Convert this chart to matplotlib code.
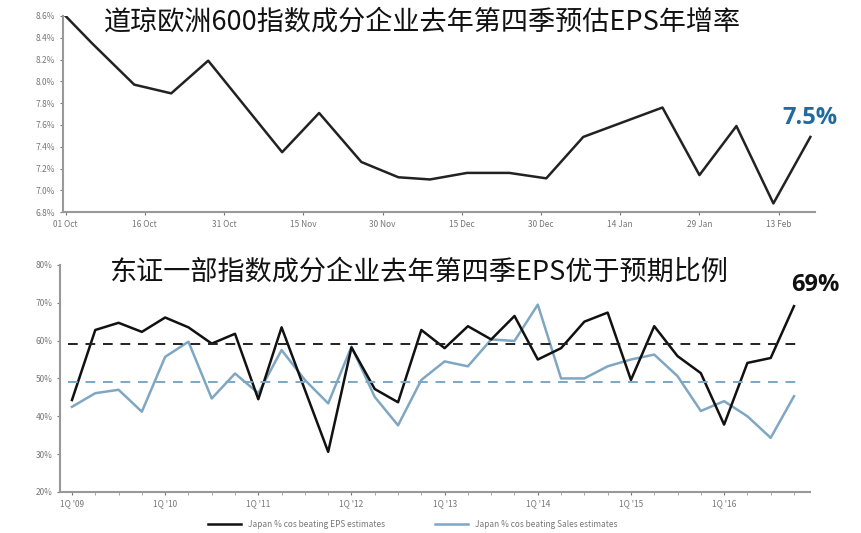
import matplotlib.pyplot as plt

plt.rcParams['font.family'] = ['Noto Sans CJK SC', 'DejaVu Sans']

# Top chart: STOXX 600 Q4 EPS growth estimate (days since 01 Oct)
top_days = [0, 5, 13, 20, 27, 41, 48, 56, 63, 69, 76, 84, 91, 98, 113, 120, 127, 134, 141]
top_vals = [8.6, 8.35, 7.97, 7.89, 8.19, 7.35, 7.71, 7.26, 7.12, 7.10, 7.16, 7.16, 7.11,
            7.49, 7.76, 7.14, 7.59, 6.88, 7.49]
top_tick_days = [0, 15, 30, 45, 60, 75, 90, 105, 120, 135]
top_tick_labels = ["01 Oct", "16 Oct", "31 Oct", "15 Nov", "30 Nov", "15 Dec",
                   "30 Dec", "14 Jan", "29 Jan", "13 Feb"]

# Bottom chart: Japan % companies beating estimates, quarterly from 1Q'09
eps_beat = [44.3, 62.8, 64.7, 62.3, 66.1, 63.5, 59.2, 61.8, 44.5, 63.5, 47.0, 30.6,
            58.2, 47.2, 43.7, 62.8, 58.0, 63.8, 60.3, 66.5, 55.0, 58.0, 65.0, 67.4,
            49.6, 63.8, 55.9, 51.4, 37.8, 54.1, 55.4, 69.1]
sales_beat = [42.5, 46.1, 47.0, 41.2, 55.7, 59.7, 44.7, 51.3, 46.1, 57.5, 49.6, 43.4,
              58.4, 45.1, 37.6, 49.6, 54.5, 53.2, 60.3, 59.9, 69.5, 50.0, 50.0, 53.2,
              55.0, 56.3, 50.6, 41.4, 44.0, 40.0, 34.3, 45.3]
eps_avg = 59
sales_avg = 49
year_labels = ["1Q '09", "1Q '10", "1Q '11", "1Q '12", "1Q '13", "1Q '14", "1Q '15", "1Q '16"]

blue = "#7fa7c2"
tick_grey = "#777777"

fig = plt.figure(figsize=(8.62, 5.33), dpi=100)

# ---- top chart
ax1 = fig.add_axes([0.073, 0.602, 0.872, 0.368])
ax1.plot(top_days, top_vals, color="#222222", lw=1.8)
ax1.set_ylim(6.8, 8.6)
ax1.set_xlim(-0.5, 141.8)
ax1.set_yticks([6.8 + 0.2 * i for i in range(10)])
ax1.set_yticklabels([f"{6.8 + 0.2 * i:.1f}%" for i in range(10)])
ax1.set_xticks(top_tick_days)
ax1.set_xticklabels(top_tick_labels)
ax1.text(141, 7.66, "7.5%", fontsize=17, fontweight="bold", clip_on=False,
         color="#1f6aa0", ha="center", va="center", family=['Open Sans', 'DejaVu Sans'])

# ---- bottom chart
ax2 = fig.add_axes([0.07, 0.077, 0.87, 0.426])
x = list(range(len(eps_beat)))
ax2.plot(x, sales_beat, color=blue, lw=1.8, label="Japan % cos beating Sales estimates")
ax2.plot(x, eps_beat, color="#111111", lw=1.8, label="Japan % cos beating EPS estimates")
ax2.axhline(eps_avg, xmin=0.01, xmax=0.985, color="#222222", ls=(0, (5, 4)), lw=1.4)
ax2.axhline(sales_avg, xmin=0.01, xmax=0.985, color=blue, ls=(0, (5, 4)), lw=1.4)
ax2.set_ylim(20, 80)
ax2.set_xlim(-0.5, 31.7)
ax2.set_yticks(range(20, 81, 10))
ax2.set_yticklabels([f"{v}%" for v in range(20, 81, 10)])
ax2.set_xticks(range(0, 32, 4))
ax2.set_xticklabels(year_labels)
ax2.set_xticks(range(32), minor=True)
ax2.text(31.9, 74.7, "69%", fontsize=17, fontweight="bold", color="#111111", clip_on=False,
         ha="center", va="center", family=['Open Sans', 'DejaVu Sans'])
h, l = ax2.get_legend_handles_labels()
ax2.legend(h[::-1], l[::-1], loc="upper center", bbox_to_anchor=(0.47, -0.09), ncol=2,
           frameon=False, fontsize=6, labelcolor=tick_grey, handlelength=4, columnspacing=6)

for ax in (ax1, ax2):
    for s in ("top", "right"):
        ax.spines[s].set_visible(False)
    for s in ("left", "bottom"):
        ax.spines[s].set_color("#999999")
        ax.spines[s].set_linewidth(1.5)
    ax.tick_params(labelsize=6, colors=tick_grey, length=2)
    ax.tick_params(which="minor", length=2, colors="#999999")

fig.text(0.49, 0.958, "道琼欧洲600指数成分企业去年第四季预估EPS年增率", fontsize=19.5,
         ha="center", va="center", color="#111111")
fig.text(0.485, 0.49, "东证一部指数成分企业去年第四季EPS优于预期比例", fontsize=19.5,
         ha="center", va="center", color="#111111")

fig.savefig("out.png", dpi=100)
